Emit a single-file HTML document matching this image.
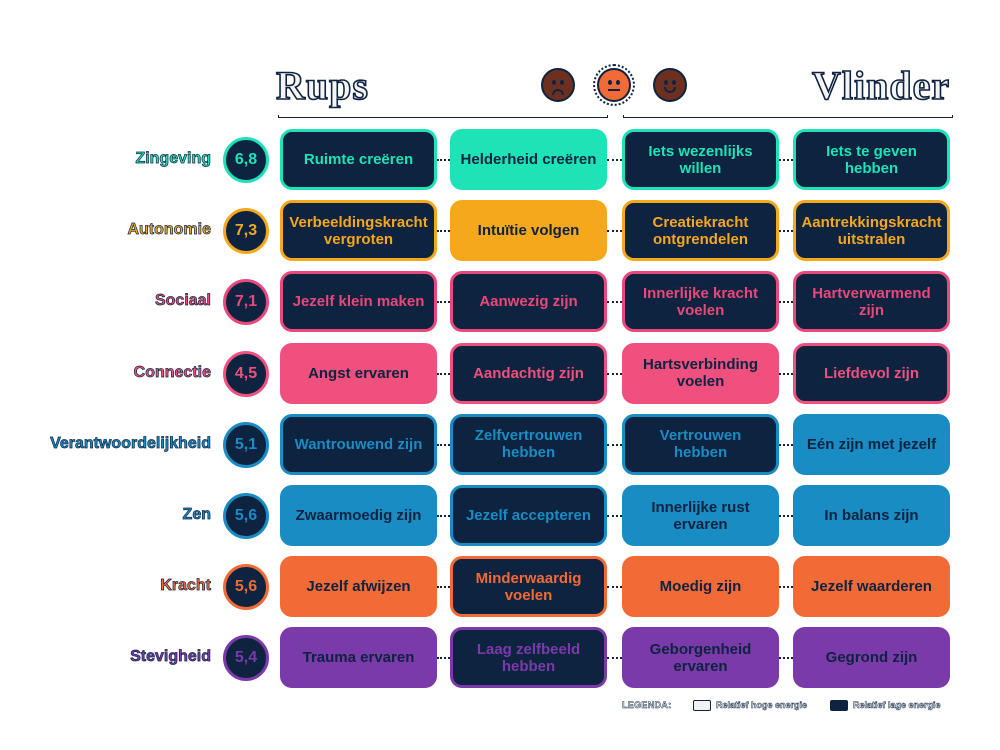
<!DOCTYPE html>
<html><head><meta charset="utf-8"><style>
body{margin:0;width:1000px;height:750px;background:#fff;position:relative;overflow:hidden;font-family:"Liberation Sans",sans-serif;}
.b{position:absolute;width:157px;height:61px;border-radius:12px;box-sizing:border-box;display:flex;align-items:center;justify-content:center;text-align:center;font-weight:bold;font-size:15px;line-height:17px;}
.c{position:absolute;width:46px;height:46px;border-radius:50%;box-sizing:border-box;border:3px solid;background:#0d2340;display:flex;align-items:center;justify-content:center;font-weight:bold;font-size:16px;left:223px;}
.l{position:absolute;right:789px;font-weight:bold;font-size:16px;-webkit-text-stroke:0.7px #0d2340;}
.d{position:absolute;width:13px;border-top:2px dotted #0d2340;}
.t{position:absolute;font-family:"Liberation Serif",serif;font-weight:bold;font-size:40px;color:#f5f5f5;-webkit-text-stroke:1.6px #0d2340;letter-spacing:1px;}
.bar{position:absolute;top:115px;height:3px;border:1px solid #0d2340;border-top:none;box-sizing:border-box;}
.f{position:absolute;width:34px;height:34px;border-radius:50%;background:#6b3020;border:2px solid #0d2340;box-sizing:border-box;top:68px;}
.e{position:absolute;width:4px;height:5px;border-radius:50%;background:#0d2340;top:10px;}
.m{position:absolute;left:9px;width:12px;height:6px;box-sizing:border-box;}
</style></head><body>
<div class="t" style="left:276px;top:62px">Rups</div>
<div class="t" style="left:812px;top:62px">Vlinder</div>
<div class="bar" style="left:278px;width:330px"></div>
<div class="bar" style="left:623px;width:330px"></div>
<div class="f" style="left:541px"><div class="e" style="left:9px"></div><div class="e" style="left:17px"></div><div class="m" style="top:19px;border:2px solid #0d2340;border-bottom:none;border-radius:8px 8px 0 0"></div></div>
<div class="f" style="left:597px;background:#f26a36;outline:2px dotted #0d2340;outline-offset:2px"><div class="e" style="left:9px"></div><div class="e" style="left:17px"></div><div class="m" style="top:19px;height:2px;background:#0d2340"></div></div>
<div class="f" style="left:653px"><div class="e" style="left:9px"></div><div class="e" style="left:17px"></div><div class="m" style="top:17px;border:2px solid #0d2340;border-top:none;border-radius:0 0 8px 8px"></div></div>
<div id="g"></div>
<div style="position:absolute;left:622px;top:700px;font-size:9px;font-weight:bold;color:#fff;-webkit-text-stroke:0.5px #0d2340;letter-spacing:0.3px">LEGENDA:</div>
<div style="position:absolute;left:693px;top:700px;width:16px;height:9px;border:1px solid #0d2340;border-radius:2px;background:#f2f2f2"></div>
<div style="position:absolute;left:716px;top:700px;font-size:9px;font-weight:bold;color:#fff;-webkit-text-stroke:0.5px #0d2340">Relatief hoge energie</div>
<div style="position:absolute;left:830px;top:700px;width:16px;height:9px;border:1px solid #0d2340;border-radius:2px;background:#0d2340"></div>
<div style="position:absolute;left:853px;top:700px;font-size:9px;font-weight:bold;color:#fff;-webkit-text-stroke:0.5px #0d2340">Relatief lage energie</div>
<script>
var rows=[
["Zingeving","6,8","#1de3b6",["Ruimte creëren","Helderheid creëren","Iets wezenlijks<br>willen","Iets te geven<br>hebben"],"DLDD"],
["Autonomie","7,3","#f5a81c",["Verbeeldingskracht<br>vergroten","Intuïtie volgen","Creatiekracht<br>ontgrendelen","Aantrekkingskracht<br>uitstralen"],"DLDD"],
["Sociaal","7,1","#e8487a",["Jezelf klein maken","Aanwezig zijn","Innerlijke kracht<br>voelen","Hartverwarmend<br>zijn"],"DDDD"],
["Connectie","4,5","#f0507e",["Angst ervaren","Aandachtig zijn","Hartsverbinding<br>voelen","Liefdevol zijn"],"LDLD"],
["Verantwoordelijkheid","5,1","#1a8cc4",["Wantrouwend zijn","Zelfvertrouwen<br>hebben","Vertrouwen<br>hebben","Eén zijn met jezelf"],"DDDL"],
["Zen","5,6","#1a8cc4",["Zwaarmoedig zijn","Jezelf accepteren","Innerlijke rust<br>ervaren","In balans zijn"],"LDLL"],
["Kracht","5,6","#f26a36",["Jezelf afwijzen","Minderwaardig<br>voelen","Moedig zijn","Jezelf waarderen"],"LDLL"],
["Stevigheid","5,4","#7a3aaa",["Trauma ervaren","Laag zelfbeeld<br>hebben","Geborgenheid<br>ervaren","Gegrond zijn"],"LDLL"]];
var xs=[280,450,622,793],h="";
rows.forEach(function(r,i){var y=129+i*71.2;
h+='<div class="l" style="top:'+(y+21)+'px;color:'+r[2]+'">'+r[0]+'</div>';
h+='<div class="c" style="top:'+(y+8)+'px;border-color:'+r[2]+';color:'+r[2]+'">'+r[1]+'</div>';
r[3].forEach(function(t,j){var L=r[4][j]=="L";
h+='<div class="b" style="left:'+xs[j]+'px;top:'+y+'px;'+(L?'background:'+r[2]+';color:#0d2340;border:1px solid '+r[2]:'background:#0d2340;color:'+r[2]+';border:3px solid '+r[2])+'">'+t+'</div>';
if(j<3)h+='<div class="d" style="left:'+(xs[j]+157)+'px;top:'+(y+30)+'px;width:'+(xs[j+1]-xs[j]-157)+'px"></div>';});});
document.getElementById("g").innerHTML=h;
</script>
</body></html>
